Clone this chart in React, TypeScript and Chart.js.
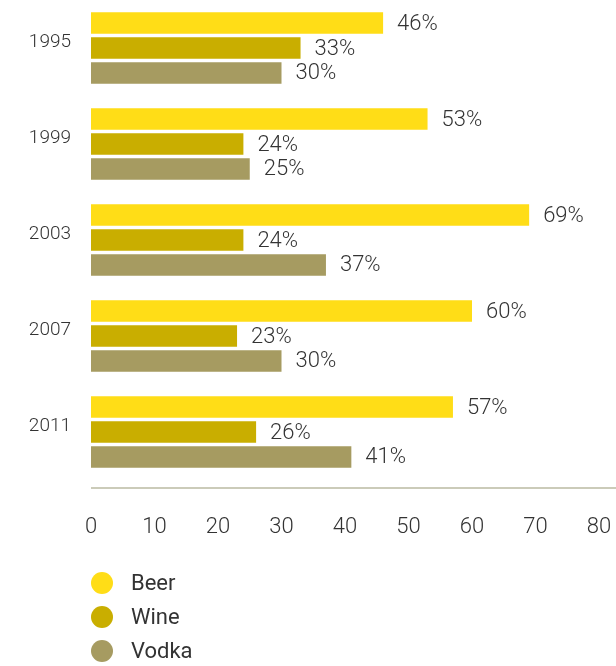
import React, { useEffect, useRef } from "react";
import { Chart, registerables } from "chart.js";

Chart.register(...registerables);

const years = ["1995", "1999", "2003", "2007", "2011"];
const beer = [46, 53, 69, 60, 57];
const wine = [33, 24, 24, 23, 26];
const vodka = [30, 25, 37, 30, 41];
const xTicks = [0, 10, 20, 30, 40, 50, 60, 70, 80];
const seriesNames = ["Beer", "Wine", "Vodka"];
const seriesColors = ["#FFDD17", "#C9AE00", "#A69B61"];

const FONT = "Roboto, 'Noto Sans', sans-serif";
const TEXT = "#333333";

const extrasPlugin = {
  id: "extras",
  afterDatasetsDraw(chart: any) {
    const { ctx, chartArea } = chart;
    ctx.save();
    // value labels
    ctx.font = `300 22px ${FONT}`;
    ctx.fillStyle = TEXT;
    ctx.textAlign = "left";
    ctx.textBaseline = "middle";
    chart.data.datasets.forEach((ds: any, di: number) => {
      const meta = chart.getDatasetMeta(di);
      meta.data.forEach((bar: any, i: number) => {
        ctx.fillText(ds.data[i] + "%", bar.x + 14, bar.y + 1);
      });
    });
    // axis line
    ctx.strokeStyle = "#CBCBB9";
    ctx.lineWidth = 2;
    ctx.beginPath();
    ctx.moveTo(chartArea.left, chartArea.bottom + 8);
    ctx.lineTo(chart.width, chartArea.bottom + 8);
    ctx.stroke();
    // legend
    const ys = [583, 617, 651];
    seriesNames.forEach((name, i) => {
      ctx.fillStyle = seriesColors[i];
      ctx.beginPath();
      ctx.arc(102, ys[i], 11, 0, Math.PI * 2);
      ctx.fill();
      ctx.fillStyle = TEXT;
      ctx.font = `22px ${FONT}`;
      ctx.textAlign = "left";
      ctx.textBaseline = "middle";
      ctx.fillText(name, 131, ys[i] + 1);
    });
    ctx.restore();
  },
};

export default function App() {
  const ref = useRef<HTMLCanvasElement | null>(null);
  useEffect(() => {
    if (!ref.current) return;
    const chart = new Chart(ref.current, {
      type: "bar",
      data: {
        labels: years,
        datasets: [beer, wine, vodka].map((d, i) => ({
          label: seriesNames[i],
          data: d,
          backgroundColor: seriesColors[i],
          borderWidth: 0,
          barPercentage: 0.86,
          categoryPercentage: 0.78,
        })),
      },
      options: {
        indexAxis: "y",
        animation: false,
        responsive: true,
        maintainAspectRatio: false,
        layout: { padding: { left: 0, right: 17, top: 0, bottom: 96 } },
        plugins: { legend: { display: false }, tooltip: { enabled: false } },
        scales: {
          x: {
            type: "linear",
            position: "bottom",
            min: 0,
            max: 80,
            afterBuildTicks: (s: any) => {
              s.ticks = xTicks.map((v) => ({ value: v }));
            },
            afterFit: (s: any) => {
              s.height = 90;
              s.paddingLeft = 0;
              s.paddingRight = 0;
              s.paddingTop = 0;
              s.paddingBottom = 0;
            },
            grid: { display: false, drawTicks: false },
            border: { display: false },
            ticks: {
              color: TEXT,
              font: { family: FONT, size: 22, weight: "300" },
              padding: 34,
              maxRotation: 0,
              autoSkip: false,
            },
          },
          y: {
            type: "category",
            position: "left",
            afterFit: (s: any) => {
              s.width = 91;
              s.paddingLeft = 0;
              s.paddingRight = 0;
              s.paddingTop = 0;
              s.paddingBottom = 0;
            },
            grid: { display: false, drawTicks: false },
            border: { display: false },
            ticks: {
              color: TEXT,
              font: { family: FONT, size: 19, weight: "300" },
              padding: 20,
              labelOffset: -6,
            },
          },
        },
      },
      plugins: [extrasPlugin],
    } as any);
    return () => chart.destroy();
  }, []);
  return (
    <div style={{ position: "absolute", left: 0, top: 0, width: 616, height: 666 }}>
      <canvas ref={ref} />
    </div>
  );
}
